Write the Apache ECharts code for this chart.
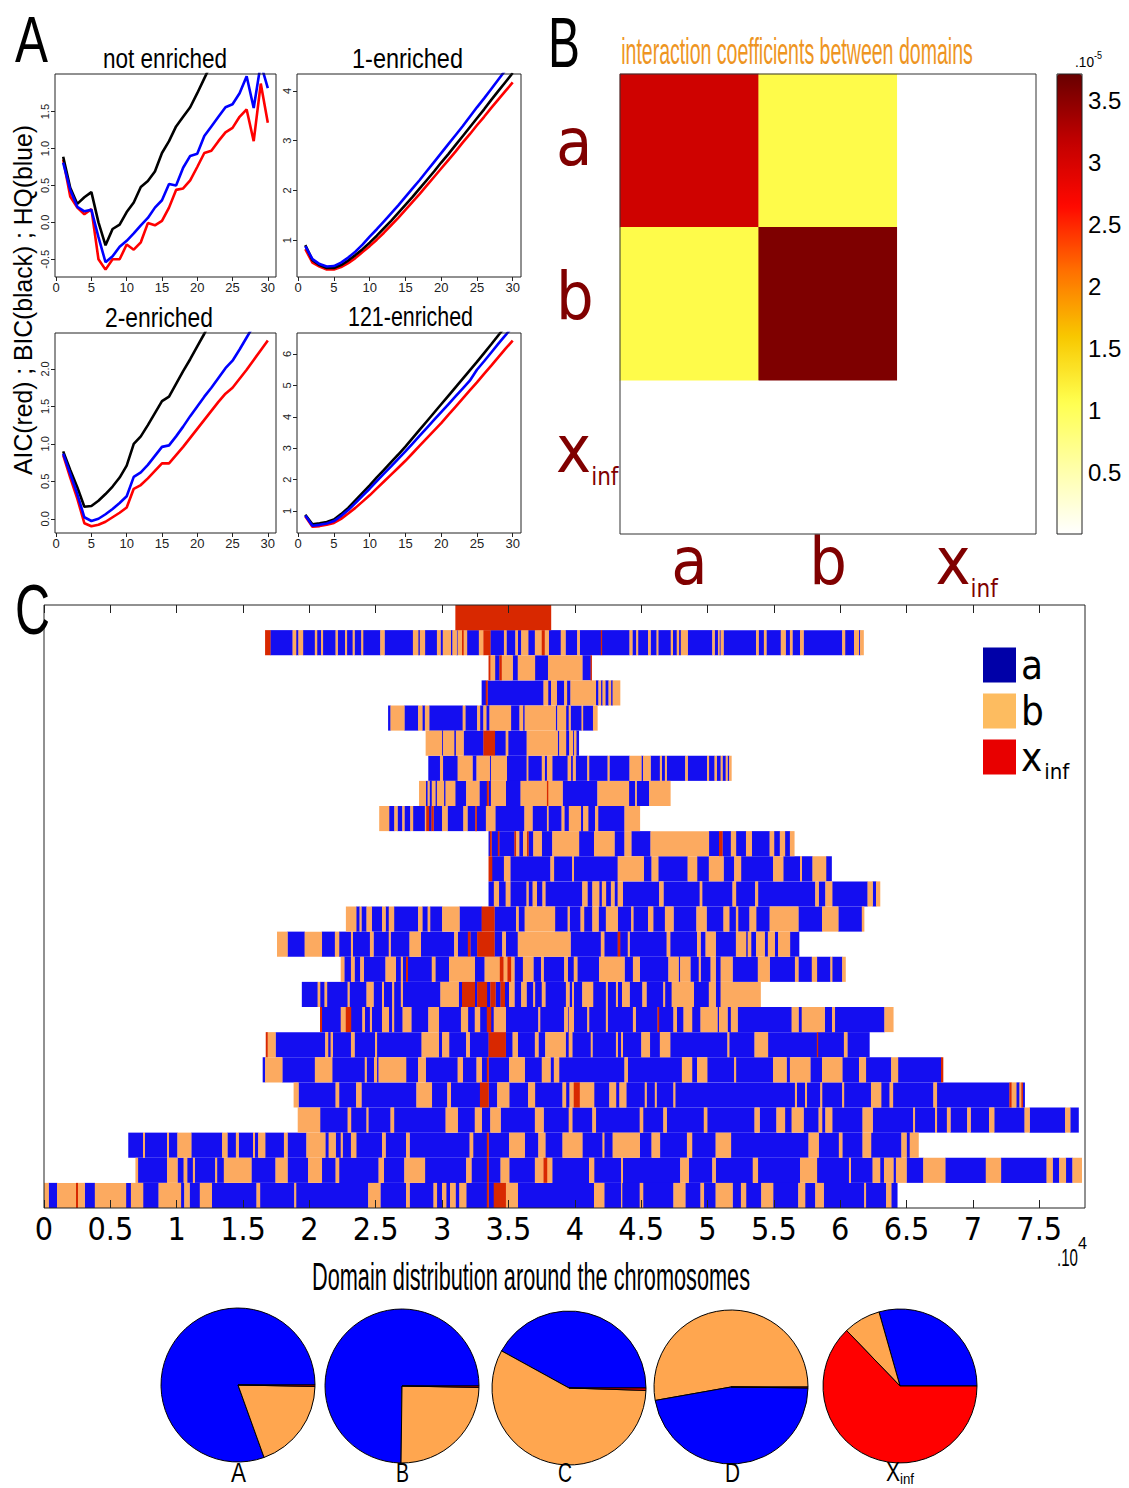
<!DOCTYPE html>
<html><head><meta charset="utf-8">
<script src="https://cdn.jsdelivr.net/npm/echarts@6/dist/echarts.min.js"></script>
<style>html,body{margin:0;padding:0;background:#fff}#c{width:1129px;height:1488px}</style>
</head><body><div id="c"></div>
<script>
// ================= DATA =================
// Panel A : model order k and information criteria (scaled)
const kValues = [1,2,3,4,5,6,7,8,9,10,11,12,13,14,15,16,17,18,19,20,21,22,23,24,25,26,27,28,29,30];
const notAIC = [0.85,0.35,0.20,0.11,0.18,-0.50,-0.64,-0.50,-0.50,-0.30,-0.37,-0.27,-0.01,-0.04,0.02,0.20,0.44,0.46,0.57,0.75,0.94,0.97,1.10,1.22,1.28,1.43,1.53,1.10,1.88,1.35];
const notBIC = [0.89,0.47,0.25,0.34,0.41,0.00,-0.31,-0.09,-0.03,0.14,0.27,0.48,0.56,0.69,0.94,1.10,1.30,1.43,1.56,1.75,1.95,2.15,2.35,2.55,2.75,2.95,3.15,3.20,3.50,3.55];
const notHQ  = [0.81,0.44,0.21,0.15,0.17,-0.20,-0.54,-0.46,-0.33,-0.25,-0.15,-0.04,0.06,0.20,0.30,0.52,0.50,0.74,0.90,0.93,1.17,1.30,1.43,1.56,1.60,1.75,1.98,1.55,2.15,1.82];
const oneAIC = [0.82,0.55,0.47,0.41,0.41,0.46,0.54,0.64,0.76,0.88,1.01,1.15,1.30,1.45,1.61,1.77,1.93,2.10,2.27,2.44,2.61,2.78,2.96,3.13,3.31,3.48,3.66,3.83,4.00,4.17];
const oneBIC = [0.90,0.60,0.50,0.44,0.44,0.50,0.59,0.70,0.82,0.95,1.09,1.24,1.39,1.55,1.71,1.87,2.04,2.21,2.38,2.56,2.73,2.91,3.09,3.27,3.45,3.63,3.82,4.00,4.18,4.36];
const oneHQ  = [0.88,0.62,0.52,0.47,0.48,0.55,0.65,0.77,0.91,1.07,1.22,1.38,1.54,1.70,1.87,2.04,2.21,2.39,2.57,2.75,2.93,3.11,3.29,3.48,3.67,3.85,4.04,4.23,4.42,4.60];
const twoAIC = [0.85,0.55,0.27,-0.06,-0.10,-0.08,-0.04,0.02,0.08,0.15,0.40,0.45,0.54,0.64,0.74,0.74,0.85,0.96,1.08,1.20,1.32,1.44,1.56,1.67,1.75,1.87,1.99,2.12,2.25,2.38];
const twoBIC = [0.90,0.65,0.42,0.16,0.17,0.24,0.33,0.43,0.55,0.71,1.00,1.10,1.25,1.41,1.57,1.63,1.80,1.97,2.13,2.30,2.47,2.65,2.83,3.00,3.18,3.36,3.54,3.72,3.90,4.08];
const twoHQ  = [0.87,0.60,0.33,0.02,-0.03,0.00,0.06,0.13,0.21,0.30,0.56,0.62,0.72,0.84,0.96,0.98,1.10,1.23,1.37,1.50,1.63,1.75,1.88,2.01,2.11,2.26,2.42,2.58,2.72,2.87];
const t121AIC = [0.83,0.50,0.52,0.56,0.62,0.75,0.92,1.10,1.30,1.50,1.72,1.94,2.16,2.38,2.60,2.84,3.08,3.32,3.56,3.80,4.06,4.32,4.58,4.84,5.10,5.37,5.63,5.90,6.17,6.43];
const t121BIC = [0.88,0.58,0.61,0.65,0.73,0.90,1.10,1.34,1.58,1.82,2.07,2.31,2.56,2.80,3.05,3.32,3.59,3.86,4.13,4.40,4.67,4.94,5.21,5.48,5.75,6.03,6.31,6.60,6.88,7.16];
const t121HQ  = [0.86,0.53,0.56,0.60,0.68,0.84,1.03,1.25,1.48,1.71,1.95,2.19,2.42,2.66,2.90,3.15,3.40,3.65,3.90,4.15,4.40,4.65,4.90,5.15,5.50,5.77,6.05,6.33,6.60,6.88];
const aXTicks = [0,5,10,15,20,25,30];
const yTicksNot = [-0.5,0,0.5,1,1.5];
const yTicksOne = [1,2,3,4];
const yTicksTwo = [0,0.5,1,1.5,2];
const yTicks121 = [1,2,3,4,5,6];

// Panel B : interaction coefficients (x 1e-5), rows/cols a, b, x_inf
const domainCats = ['a','b','x_inf'];
const interaction = [
  [3.05, 1.10, 0],
  [1.10, 3.58, 0],
  [0,    0,    0]
];
const cbTicks = [0.5,1,1.5,2,2.5,3,3.5];

// Panel C : domain tracks, positions in units of 1e4; pairs (start, state) and a final end
const cTicks = [0,0.5,1,1.5,2,2.5,3,3.5,4,4.5,5,5.5,6,6.5,7,7.5];
const row00 = [3.10,'x',3.82];
const row01 = [1.666,'x',1.705,'a',1.873,'b',1.899,'a',1.917,'b',1.951,'a',2.041,'b',2.057,'a',2.088,'b',2.101,'a',2.197,'b',2.212,'a',2.269,'b',2.282,'a',2.326,'b',2.339,'a',2.391,'b',2.404,'a',2.534,'b',2.565,'a',2.780,'b',2.819,'a',2.832,'b',2.870,'a',2.961,'b',2.987,'a',3.005,'b',3.065,'a',3.078,'b',3.109,'a',3.117,'b',3.150,'x',3.161,'b',3.187,'a',3.277,'b',3.311,'x',3.363,'a',3.466,'b',3.484,'a',3.552,'b',3.570,'a',3.596,'b',3.648,'a',3.699,'b',3.751,'x',3.772,'b',3.803,'a',3.894,'b',3.929,'a',4.018,'b',4.036,'a',4.196,'x',4.204,'a',4.412,'b',4.433,'a',4.463,'b',4.476,'a',4.552,'b',4.570,'a',4.616,'b',4.628,'a',4.723,'b',4.738,'a',4.768,'b',4.784,'a',4.799,'b',4.850,'a',5.036,'b',5.053,'a',5.079,'b',5.089,'a',5.099,'b',5.120,'a',5.366,'b',5.384,'a',5.425,'b',5.443,'a',5.552,'b',5.588,'a',5.621,'b',5.639,'a',5.697,'b',5.723,'a',6.015,'b',6.036,'a',6.104,'b',6.140,'a',6.150,'b',6.176];
const row02 = [3.350,'x',3.362,'b',3.398,'a',3.432,'x',3.448,'b',3.531,'a',3.570,'b',3.699,'a',3.798,'b',4.056,'a',4.119,'x',4.127];
const row03 = [3.298,'a',3.329,'x',3.342,'a',3.764,'b',3.798,'a',3.821,'b',3.863,'a',3.920,'b',3.940,'a',3.967,'b',4.158,'a',4.178,'b',4.196,'a',4.209,'b',4.229,'a',4.254,'b',4.272,'a',4.285,'b',4.341];
const row04 = [2.593,'a',2.611,'b',2.715,'a',2.819,'b',2.850,'a',2.870,'b',2.902,'a',3.155,'b',3.174,'a',3.264,'b',3.285,'a',3.311,'b',3.332,'a',3.357,'b',3.518,'a',3.583,'b',3.609,'a',3.622,'b',3.855,'a',3.868,'b',3.933,'a',3.954,'b',3.967,'a',4.051,'b',4.061,'a',4.137,'b',4.170];
const row05 = [2.876,'b',2.998,'a',3.007,'b',3.090,'a',3.104,'b',3.161,'a',3.311,'x',3.397,'a',3.479,'b',3.497,'a',3.637,'b',3.870,'a',3.883,'b',3.933,'a',3.958,'b',3.985,'a',3.995,'b',4.010,'a',4.030];
const row06 = [2.896,'a',2.984,'b',3.005,'a',3.117,'b',3.228,'a',3.259,'b',3.358,'a',3.368,'b',3.487,'a',3.637,'b',3.648,'a',3.751,'b',3.772,'a',3.790,'b',3.829,'a',3.946,'b',3.970,'a',3.985,'b',4.005,'a',4.094,'b',4.107,'a',4.247,'b',4.260,'a',4.412,'b',4.501,'a',4.514,'b',4.570,'a',4.641,'b',4.654,'a',4.679,'b',4.692,'a',4.832,'b',4.850,'a',4.997,'b',5.010,'a',5.053,'b',5.069,'a',5.099,'b',5.112,'a',5.137,'b',5.150,'a',5.163,'b',5.180];
const row07 = [2.826,'b',2.876,'a',2.891,'b',2.904,'a',2.922,'b',2.948,'a',2.961,'b',3.013,'a',3.026,'b',3.098,'a',3.181,'b',3.280,'a',3.337,'x',3.350,'a',3.368,'b',3.479,'a',3.591,'b',3.790,'x',3.798,'b',3.907,'a',4.170,'b',4.407,'a',4.455,'b',4.465,'a',4.560,'b',4.720];
const row08 = [2.526,'b',2.600,'a',2.640,'b',2.663,'a',2.700,'b',2.715,'a',2.760,'b',2.780,'a',2.870,'b',2.880,'x',2.900,'a',2.920,'x',2.935,'a',3.000,'b',3.040,'a',3.160,'b',3.190,'a',3.250,'x',3.260,'a',3.330,'b',3.400,'a',3.620,'b',3.680,'a',3.790,'b',3.800,'a',3.900,'b',3.920,'a',3.955,'b',4.045,'a',4.063,'b',4.100,'a',4.153,'b',4.175,'a',4.374,'b',4.490];
const row09 = [3.350,'a',3.360,'x',3.372,'a',3.420,'x',3.430,'a',3.545,'x',3.555,'b',3.580,'a',3.610,'b',3.640,'x',3.650,'a',3.687,'b',3.750,'a',3.830,'b',4.031,'a',4.145,'b',4.298,'a',4.374,'b',4.425,'a',4.570,'b',5.010,'a',5.087,'x',5.112,'a',5.176,'b',5.214,'a',5.290,'b',5.333,'a',5.468,'b',5.501,'a',5.545,'b',5.583,'a',5.621,'b',5.654];
const row10 = [3.350,'x',3.376,'a',3.466,'b',3.513,'a',3.816,'b',3.842,'a',3.980,'b',3.992,'a',4.323,'b',4.519,'a',4.578,'b',4.628,'a',4.850,'b',4.921,'a',5.010,'b',5.120,'a',5.201,'b',5.252,'a',5.494,'b',5.570,'a',5.697,'b',5.710,'a',5.791,'b',5.893,'a',5.935];
const row11 = [3.350,'a',3.390,'b',3.427,'a',3.479,'b',3.513,'a',3.636,'b',3.650,'a',3.682,'b',3.713,'a',3.756,'b',3.777,'a',4.056,'b',4.094,'a',4.132,'b',4.183,'a',4.204,'b',4.234,'a',4.272,'b',4.298,'a',4.323,'b',4.361,'a',4.636,'b',4.667,'a',4.941,'b',4.959,'a',5.188,'b',5.214,'a',5.359,'b',5.380,'a',5.812,'b',5.837,'a',5.888,'b',5.939,'a',6.206,'b',6.244,'a',6.270,'b',6.300];
const row12 = [2.275,'b',2.352,'a',2.378,'b',2.391,'a',2.430,'b',2.469,'a',2.547,'b',2.573,'a',2.598,'b',2.637,'a',2.819,'b',2.850,'a',2.891,'b',2.909,'a',3.000,'b',3.130,'a',3.298,'x',3.394,'a',3.557,'b',3.575,'a',3.622,'b',3.850,'a',3.946,'b',3.960,'a',4.043,'b',4.069,'a',4.132,'b',4.178,'a',4.234,'b',4.323,'a',4.425,'b',4.440,'a',4.552,'b',4.590,'a',4.679,'b',4.743,'a',4.916,'b',4.992,'a',5.120,'b',5.163,'a',5.214,'b',5.230,'a',5.316,'b',5.366,'a',5.468,'b',5.684,'a',5.863,'b',5.985,'a',6.163,'b',6.180];
const row13 = [1.756,'b',1.834,'a',1.964,'b',2.093,'a',2.192,'b',2.223,'a',2.313,'b',2.326,'a',2.456,'b',2.482,'a',2.598,'b',2.611,'a',2.754,'b',2.839,'a',3.091,'b',3.117,'a',3.194,'x',3.212,'a',3.264,'x',3.394,'a',3.453,'b',3.479,'a',3.570,'b',3.967,'a',4.196,'b',4.221,'a',4.323,'x',4.341,'a',4.399,'b',4.412,'a',4.692,'b',4.718,'a',4.921,'b',4.947,'a',4.985,'b',5.061,'a',5.214,'b',5.290,'a',5.303,'b',5.328,'a',5.366,'b',5.430,'a',5.455,'b',5.506,'a',5.532,'b',5.621,'a',5.690];
const row14 = [2.236,'b',2.262,'a',2.313,'b',2.339,'a',2.383,'b',2.409,'a',2.573,'b',2.650,'a',2.689,'b',2.702,'a',2.728,'x',2.741,'a',2.922,'b',2.948,'a',3.052,'b',3.246,'a',3.320,'b',3.435,'x',3.461,'b',3.492,'x',3.518,'b',3.544,'a',3.609,'b',3.687,'a',3.746,'b',3.764,'a',3.920,'b',3.946,'a',3.992,'b',4.018,'a',4.183,'b',4.374,'a',4.438,'b',4.489,'a',4.705,'b',4.781,'a',4.794,'b',4.870,'a',4.934,'b',4.947,'a',5.023,'b',5.061,'a',5.099,'b',5.188,'a',5.379,'b',5.468,'a',5.659,'b',5.684,'a',5.786,'b',5.824,'a',5.926,'b',5.939,'a',6.015,'b',6.040];
const row15 = [1.943,'a',2.062,'b',2.080,'a',2.114,'b',2.132,'a',2.288,'b',2.301,'a',2.430,'b',2.482,'a',2.547,'b',2.560,'a',2.624,'b',2.637,'a',2.689,'b',2.702,'a',2.987,'b',3.124,'a',3.150,'x',3.246,'a',3.264,'x',3.337,'a',3.363,'x',3.402,'a',3.440,'x',3.472,'a',3.505,'b',3.544,'a',3.596,'b',3.635,'a',3.687,'b',3.699,'a',3.751,'b',3.777,'a',3.933,'b',3.959,'a',3.980,'b',3.992,'a',4.056,'b',4.137,'a',4.234,'b',4.247,'a',4.310,'b',4.323,'a',4.356,'b',4.412,'a',4.509,'b',4.539,'a',4.667,'b',4.679,'a',4.730,'b',4.896,'a',5.010,'b',5.061,'a',5.099,'b',5.400];
const row16 = [2.080,'x',2.093,'a',2.236,'b',2.274,'x',2.313,'a',2.399,'b',2.417,'a',2.456,'b',2.469,'a',2.547,'b',2.598,'a',2.624,'b',2.637,'a',2.702,'b',2.767,'a',2.896,'b',2.974,'a',3.142,'b',3.194,'a',3.246,'b',3.285,'a',3.337,'x',3.368,'a',3.389,'b',3.479,'a',3.725,'b',3.738,'a',3.920,'b',3.946,'a',3.954,'b',3.992,'a',4.094,'b',4.107,'a',4.234,'b',4.247,'a',4.438,'b',4.458,'a',4.623,'x',4.634,'a',4.743,'b',4.768,'a',4.819,'b',4.883,'a',4.947,'b',5.074,'a',5.087,'b',5.150,'a',5.176,'b',5.226,'a',5.634,'b',5.685,'a',5.710,'b',5.883,'a',5.939,'b',5.959,'a',6.333,'b',6.400];
const row17 = [1.671,'x',1.684,'b',1.744,'a',2.119,'b',2.140,'a',2.160,'b',2.175,'a',2.313,'b',2.339,'a',2.495,'b',2.508,'a',2.845,'b',2.974,'a',3.000,'b',3.052,'a',3.181,'b',3.207,'a',3.350,'x',3.479,'a',3.531,'b',3.570,'a',3.699,'b',3.725,'a',3.777,'b',3.930,'a',3.954,'b',3.980,'a',4.120,'b',4.132,'a',4.310,'b',4.323,'a',4.349,'b',4.361,'a',4.501,'b',4.565,'a',4.641,'b',4.718,'a',5.150,'b',5.163,'a',5.354,'b',5.455,'a',5.824,'x',5.832,'a',6.028,'b',6.053,'a',6.220];
const row18 = [1.648,'a',1.666,'b',1.795,'a',2.041,'b',2.171,'a',2.417,'b',2.430,'a',2.487,'b',2.508,'a',2.521,'b',2.728,'a',2.819,'b',2.876,'a',3.117,'b',3.155,'a',3.259,'b',3.298,'a',3.337,'x',3.350,'a',3.505,'b',3.622,'a',3.751,'b',3.816,'a',3.842,'b',3.881,'a',4.374,'b',4.399,'a',4.807,'b',4.883,'a',4.921,'b',4.997,'a',5.201,'b',5.214,'a',5.494,'b',5.595,'a',5.621,'b',5.774,'a',5.863,'b',6.015,'a',6.142,'b',6.193,'a',6.384,'b',6.435,'a',6.760,'x',6.775];
const row19 = [1.881,'b',1.917,'a',2.197,'b',2.223,'a',2.352,'b',2.391,'a',2.806,'b',2.922,'a',3.039,'b',3.065,'a',3.285,'x',3.350,'a',3.415,'b',3.505,'a',3.648,'b',3.699,'a',3.907,'b',3.933,'a',3.960,'b',3.992,'x',4.036,'b',4.145,'a',4.260,'b',4.310,'a',4.336,'b',4.387,'a',4.527,'b',4.540,'a',4.603,'b',4.615,'a',4.743,'b',4.756,'a',5.659,'b',5.672,'a',5.735,'b',5.748,'a',5.850,'b',5.863,'a',6.015,'b',6.028,'a',6.232,'b',6.308,'a',6.372,'b',6.397,'a',6.702,'b',6.728,'a',7.275,'x',7.290,'b',7.326,'a',7.351,'b',7.365,'x',7.375,'a',7.390];
const row20 = [1.912,'b',2.080,'a',2.288,'b',2.313,'a',2.430,'b',2.443,'a',2.611,'b',2.637,'a',3.026,'b',3.117,'a',3.246,'b',3.298,'a',3.363,'b',3.440,'a',3.699,'b',3.764,'a',3.954,'b',3.980,'a',4.132,'b',4.158,'a',4.489,'b',4.514,'a',4.667,'b',4.692,'a',4.972,'b',4.997,'a',5.354,'b',5.392,'a',5.519,'b',5.583,'a',5.634,'b',5.723,'a',5.837,'b',5.863,'a',5.888,'b',5.939,'a',6.168,'b',6.244,'a',6.550,'b',6.562,'a',6.715,'b',6.728,'a',6.804,'b',6.830,'a',6.957,'b',6.982,'a',7.122,'b',7.160,'a',7.389,'b',7.427,'a',7.695,'b',7.733,'a',7.796];
const row21 = [0.635,'a',0.746,'b',0.759,'a',0.927,'b',0.940,'a',1.005,'b',1.109,'a',1.342,'b',1.381,'a',1.446,'b',1.466,'a',1.575,'b',1.588,'a',1.614,'b',1.666,'a',1.808,'b',1.834,'a',1.977,'b',2.119,'a',2.145,'b',2.197,'a',2.236,'b',2.249,'a',2.313,'b',2.352,'a',2.547,'b',2.573,'a',2.728,'b',2.754,'a',3.207,'b',3.233,'a',3.337,'x',3.350,'a',3.505,'b',3.622,'a',3.725,'b',3.777,'a',3.907,'b',4.056,'a',4.209,'b',4.221,'a',4.285,'b',4.489,'a',4.578,'b',4.641,'a',4.845,'b',4.883,'a',5.061,'b',5.176,'a',5.761,'b',5.837,'a',5.990,'b',6.015,'a',6.168,'b',6.232,'a',6.461,'b',6.499,'a',6.524,'b',6.590];
const row22 = [0.689,'b',0.707,'a',0.927,'b',1.005,'a',1.052,'b',1.078,'a',1.122,'b',1.135,'a',1.290,'b',1.303,'a',1.355,'b',1.562,'a',1.744,'b',1.834,'a',1.990,'b',2.093,'a',2.197,'b',2.223,'a',2.521,'b',2.560,'a',2.715,'b',2.870,'a',3.181,'b',3.220,'a',3.337,'x',3.350,'a',3.440,'b',3.505,'a',3.699,'b',3.764,'x',3.790,'b',3.829,'a',4.107,'b',4.145,'a',4.349,'b',4.361,'a',4.794,'b',4.858,'a',5.036,'b',5.061,'a',5.341,'b',5.379,'a',5.697,'b',5.824,'a',6.066,'b',6.079,'a',6.244,'b',6.300,'a',6.330,'b',6.400,'a',6.420,'b',6.499,'a',6.626,'b',6.791,'a',7.097,'b',7.211,'a',7.555,'b',7.600,'a',7.650,'b',7.700,'a',7.750,'b',7.820];
const row23 = [0.000,'b',0.034,'a',0.098,'b',0.241,'x',0.254,'b',0.306,'a',0.383,'b',0.617,'a',0.655,'b',0.746,'a',0.863,'b',1.031,'a',1.057,'b',1.096,'a',1.174,'b',1.264,'a',1.601,'b',1.627,'a',1.886,'b',1.899,'a',2.443,'b',2.534,'a',2.728,'b',2.754,'a',2.935,'b',2.960,'a',3.000,'b',3.030,'a',3.060,'b',3.100,'a',3.130,'b',3.181,'a',3.337,'x',3.350,'a',3.389,'x',3.479,'b',3.570,'a',4.145,'b',4.221,'a',4.349,'b',4.356,'a',4.489,'b',4.514,'a',4.743,'b',4.832,'a',4.947,'b',4.972,'a',5.061,'b',5.188,'a',5.252,'b',5.290,'a',5.405,'b',5.494,'a',5.684,'b',5.735,'a',5.812,'b',5.875,'a',6.181,'b',6.193,'a',6.346,'b',6.384,'a',6.430];
const trackRows = [row00,row01,row02,row03,row04,row05,row06,row07,row08,row09,row10,row11,row12,row13,row14,row15,row16,row17,row18,row19,row20,row21,row22,row23];

// Pies : shares (%) of domains a, b, x_inf in A, B, C, D, X_inf
const pieNames = ['A','B','C','D','X'];
const pieA = [80.5, 19.2, 0.3];
const pieB = [74.8, 24.9, 0.3];
const pieC = [42.0, 57.5, 0.5];
const pieD = [47.0, 52.8, 0.2];
const pieX = [29.4, 7.8, 62.8];
const pieOrder = [[0,1,2],[0,1,2],[0,1,2],[1,0,2],[0,1,2]];

// ================= RENDER =================
const NARROW = '"Liberation Sans Narrow","DejaVu Sans Condensed","Arial Narrow",sans-serif';
const SANS = '"Liberation Sans",Arial,Helvetica,sans-serif';
const segColor = {a:'#140EF0', b:'#FCAA60', x:'#D82800'};
const pieColor = ['#0000FF','#FFA64F','#FF0000'];

const mctx = document.createElement('canvas').getContext('2d');
function textW(str, font){ mctx.font = font; return mctx.measureText(str).width; }
function fitText(str, size, family, left, right, baseline, fill){
  const font = size + 'px ' + family;
  const w = textW(str, font);
  return {type:'text', x:(left+right)/2, y:baseline - 0.35*size, scaleX:(right-left)/w, z:100,
    style:{text:str, font:font, fill:fill||'#000', align:'center', verticalAlign:'middle', textAlign:'center', textVerticalAlign:'middle'}};
}

const chart = echarts.init(document.getElementById('c'), null, {renderer:'svg', width:1129, height:1488});

const gridBase = {show:true, borderColor:'#222', borderWidth:1, backgroundColor:'transparent', z:5};
const grids = [
  Object.assign({left:55, top:74, width:221, height:203}, gridBase),
  Object.assign({left:297, top:74, width:224, height:203}, gridBase),
  Object.assign({left:55, top:333, width:221, height:200}, gridBase),
  Object.assign({left:297, top:333, width:224, height:200}, gridBase),
  Object.assign({left:620, top:74, width:416, height:460}, gridBase, {borderColor:'#333', z:10}),
  Object.assign({left:1057, top:74, width:25, height:460}, gridBase, {z:10}),
  Object.assign({left:44, top:605, width:1041, height:603}, gridBase, {borderColor:'#222', z:10})
];

function aX(gi){
  return {type:'value', gridIndex:gi, min:-0.16, max:31.16,
    axisLine:{show:false, onZero:false}, splitLine:{show:false},
    axisTick:{show:true, length:4, customValues:aXTicks, lineStyle:{color:'#222'}},
    axisLabel:{customValues:aXTicks, fontSize:13, color:'#222', margin:4, fontFamily:SANS}};
}
function aY(gi, min, max, ticks, digits){
  return {type:'value', gridIndex:gi, min:min, max:max,
    axisLine:{show:false, onZero:false}, splitLine:{show:false},
    axisTick:{show:true, length:4, customValues:ticks, lineStyle:{color:'#222'}},
    axisLabel:{customValues:ticks, rotate:90, fontSize:11, color:'#222', margin:5, fontFamily:SANS,
      formatter:function(v){ return Number(v).toFixed(digits); }}};
}

const heatLabelRich = {
  m:{fontSize:66, lineHeight:84, fontFamily:NARROW, color:'#800000'},
  s:{fontSize:24, fontFamily:NARROW, color:'#800000', verticalAlign:'top', padding:[58,0,0,0]}
};
function heatFmt(v){ return v === 'x_inf' ? '{m|x}{s|inf}' : '{m|' + v + '}'; }

const xAxes = [
  aX(0), aX(1), aX(2), aX(3),
  {type:'category', gridIndex:4, data:domainCats, axisLine:{show:false, onZero:false}, axisTick:{show:false}, splitLine:{show:false},
   axisLabel:{formatter:heatFmt, rich:heatLabelRich, margin:-15, interval:0}},
  {type:'value', gridIndex:5, show:false, min:0, max:1},
  {type:'value', gridIndex:6, min:0, max:7.845, z:20, axisLine:{show:false, onZero:false}, splitLine:{show:false},
   axisTick:{show:true, inside:true, length:8, customValues:cTicks, lineStyle:{color:'#222'}},
   axisLabel:{customValues:cTicks, fontSize:32, fontFamily:NARROW, color:'#000', margin:5,
     formatter:function(v){ return String(v); }}},
  {type:'value', gridIndex:6, position:'top', min:0, max:7.845, z:20, axisLine:{show:false, onZero:false}, splitLine:{show:false},
   axisTick:{show:true, inside:true, length:8, customValues:cTicks, lineStyle:{color:'#222'}},
   axisLabel:{show:false}}
];
const yAxes = [
  aY(0, -0.74, 2.01, yTicksNot, 1),
  aY(1, 0.26, 4.34, yTicksOne, 0),
  aY(2, -0.19, 2.48, yTicksTwo, 1),
  aY(3, 0.30, 6.67, yTicks121, 0),
  {type:'category', gridIndex:4, data:domainCats, inverse:true, axisLine:{show:false, onZero:false}, axisTick:{show:false}, splitLine:{show:false},
   axisLabel:{formatter:heatFmt, rich:heatLabelRich, margin:64, align:'left', interval:0, padding:[0,0,16,0]}},
  {type:'value', gridIndex:5, position:'right', min:0, max:3.71, axisLine:{show:false, onZero:false}, splitLine:{show:false},
   axisTick:{show:true, inside:true, length:5, customValues:cbTicks, lineStyle:{color:'#222'}},
   axisLabel:{customValues:cbTicks, fontSize:24, fontFamily:SANS, color:'#000', margin:6,
     formatter:function(v){ return String(v); }}},
  {type:'value', gridIndex:6, min:0, max:24, inverse:true, show:false, axisLine:{onZero:false}}
];

function lineSeries(gi, data, color, name){
  return {type:'line', name:name, xAxisIndex:gi, yAxisIndex:gi, data:kValues.map((k,i)=>[k, data[i]]),
    showSymbol:false, symbol:'none', clip:true, silent:true,
    lineStyle:{color:color, width:2.6}, itemStyle:{color:color}, z:3};
}
const series = [];
[[notAIC,notBIC,notHQ],[oneAIC,oneBIC,oneHQ],[twoAIC,twoBIC,twoHQ],[t121AIC,t121BIC,t121HQ]].forEach((set, gi)=>{
  series.push(lineSeries(gi, set[0], '#FF0000', 'AIC'));
  series.push(lineSeries(gi, set[1], '#000000', 'BIC'));
  series.push(lineSeries(gi, set[2], '#0000FF', 'HQ'));
});

// heatmap
const heatData = [];
interaction.forEach((row, yi)=>row.forEach((v, xi)=>heatData.push([xi, yi, v])));
const heatIndex = series.length;
series.push({type:'heatmap', name:'interaction', xAxisIndex:4, yAxisIndex:4, data:heatData, silent:true,
  itemStyle:{borderWidth:0}, emphasis:{disabled:true}});

// tracks
const segments = [];
trackRows.forEach((row, ri)=>{
  for (let i = 0; i + 2 < row.length; i += 2) segments.push([row[i], row[i+2], ri, row[i+1]]);
});
function segSeries(name, type){
  const color = segColor[type];
  return {type:'custom', name:name, xAxisIndex:6, yAxisIndex:6, clip:true, silent:true,
    encode:{x:[0,1], y:2}, itemStyle:{color:color},
    data:segments.filter(s=>s[3]===type).map(s=>[s[0], s[1], s[2]]),
    renderItem:function(params, api){
      const p0 = api.coord([api.value(0), api.value(2)]);
      const p1 = api.coord([api.value(1), api.value(2) + 1]);
      return {type:'rect', shape:{x:p0[0], y:Math.min(p0[1],p1[1]), width:Math.max(p1[0]-p0[0],0.8)+0.3, height:Math.abs(p1[1]-p0[1])},
        style:{fill:color}};
    }, z:2};
}
series.push(segSeries('a','a'));
series.push(segSeries('b','b'));
series.push(segSeries('x_inf','x'));

// pies
const pieCenters = [[238,1385],[402,1386],[569,1388],[731,1387],[900,1386]];
[pieA,pieB,pieC,pieD,pieX].forEach((vals, pi)=>{
  series.push({type:'pie', name:'pie'+pieNames[pi], center:pieCenters[pi], radius:77, startAngle:0, clockwise:false,
    silent:true, label:{show:false}, labelLine:{show:false}, emphasis:{disabled:true},
    itemStyle:{borderColor:'#000', borderWidth:1},
    data:pieOrder[pi].map(k=>({value:vals[k], itemStyle:{color:pieColor[k]}}))});
});

// texts
const graphics = [
  fitText('A', 64, SANS, 15, 48, 62),
  fitText('B', 70, SANS, 548, 580, 68),
  fitText('C', 70, SANS, 15, 50, 635),
  fitText('not enriched', 28, SANS, 103, 227, 68),
  fitText('1-enriched', 28, SANS, 352, 463, 68),
  fitText('2-enriched', 28, SANS, 105, 213, 327),
  fitText('121-enriched', 28, SANS, 348, 473, 326),
  fitText('interaction coefficients between domains', 36, SANS, 621, 973, 64, '#EE9522'),
  fitText('Domain distribution around the chromosomes', 39, SANS, 312, 750, 1290),
  fitText('.10', 24, SANS, 1057, 1078, 1266),
  fitText('4', 17, SANS, 1078, 1087, 1249),
  fitText('.10', 15, SANS, 1075, 1094, 67),
  fitText('-5', 10, SANS, 1094, 1102, 59),
  fitText('A', 28, SANS, 231, 246, 1482),
  fitText('B', 28, SANS, 396, 409, 1482),
  fitText('C', 28, SANS, 558, 572, 1482),
  fitText('D', 28, SANS, 725, 740, 1482),
  fitText('X', 28, SANS, 886, 900, 1481),
  fitText('inf', 14, SANS, 900, 914, 1484)
];
(function(){
  const font = '26px ' + SANS, str = 'AIC(red) ; BIC(black) ; HQ(blue)';
  graphics.push({type:'text', x:23, y:300, rotation:Math.PI/2, scaleX:350/textW(str, font), z:100,
    style:{text:str, font:font, fill:'#000', align:'center', verticalAlign:'middle', textAlign:'center', textVerticalAlign:'middle'}});
})();

chart.setOption({
  animation:false,
  backgroundColor:'#fff',
  grid:grids,
  xAxis:xAxes,
  yAxis:yAxes,
  visualMap:{type:'continuous', seriesIndex:heatIndex, dimension:2, min:0, max:3.71, calculable:false, realtime:false,
    orient:'vertical', left:1057, top:74, itemWidth:25, itemHeight:460, padding:0, showLabel:false, text:null, hoverLink:false,
    inRange:{color:['#FFFFFF','#FFFFA8','#FFFF50','#F8C800','#FF7000','#FF0800','#C00000','#680000']}},
  legend:{data:[{name:'a', itemStyle:{color:'#0000A8'}},{name:'b', itemStyle:{color:'#FDBC60'}},{name:'x_inf', itemStyle:{color:'#E80000'}}],
    orient:'vertical', left:983, top:642, padding:0, itemWidth:33, itemHeight:35, itemGap:0, icon:'rect', selectedMode:false,
    formatter:function(n){ return n === 'x_inf' ? 'x{s|inf}' : n; },
    textStyle:{fontSize:40, lineHeight:46, fontFamily:NARROW, color:'#000',
      rich:{s:{fontSize:22, fontFamily:NARROW, color:'#000', verticalAlign:'top', padding:[26,0,0,2]}}}},
  series:series,
  graphic:graphics
});
</script></body></html>
